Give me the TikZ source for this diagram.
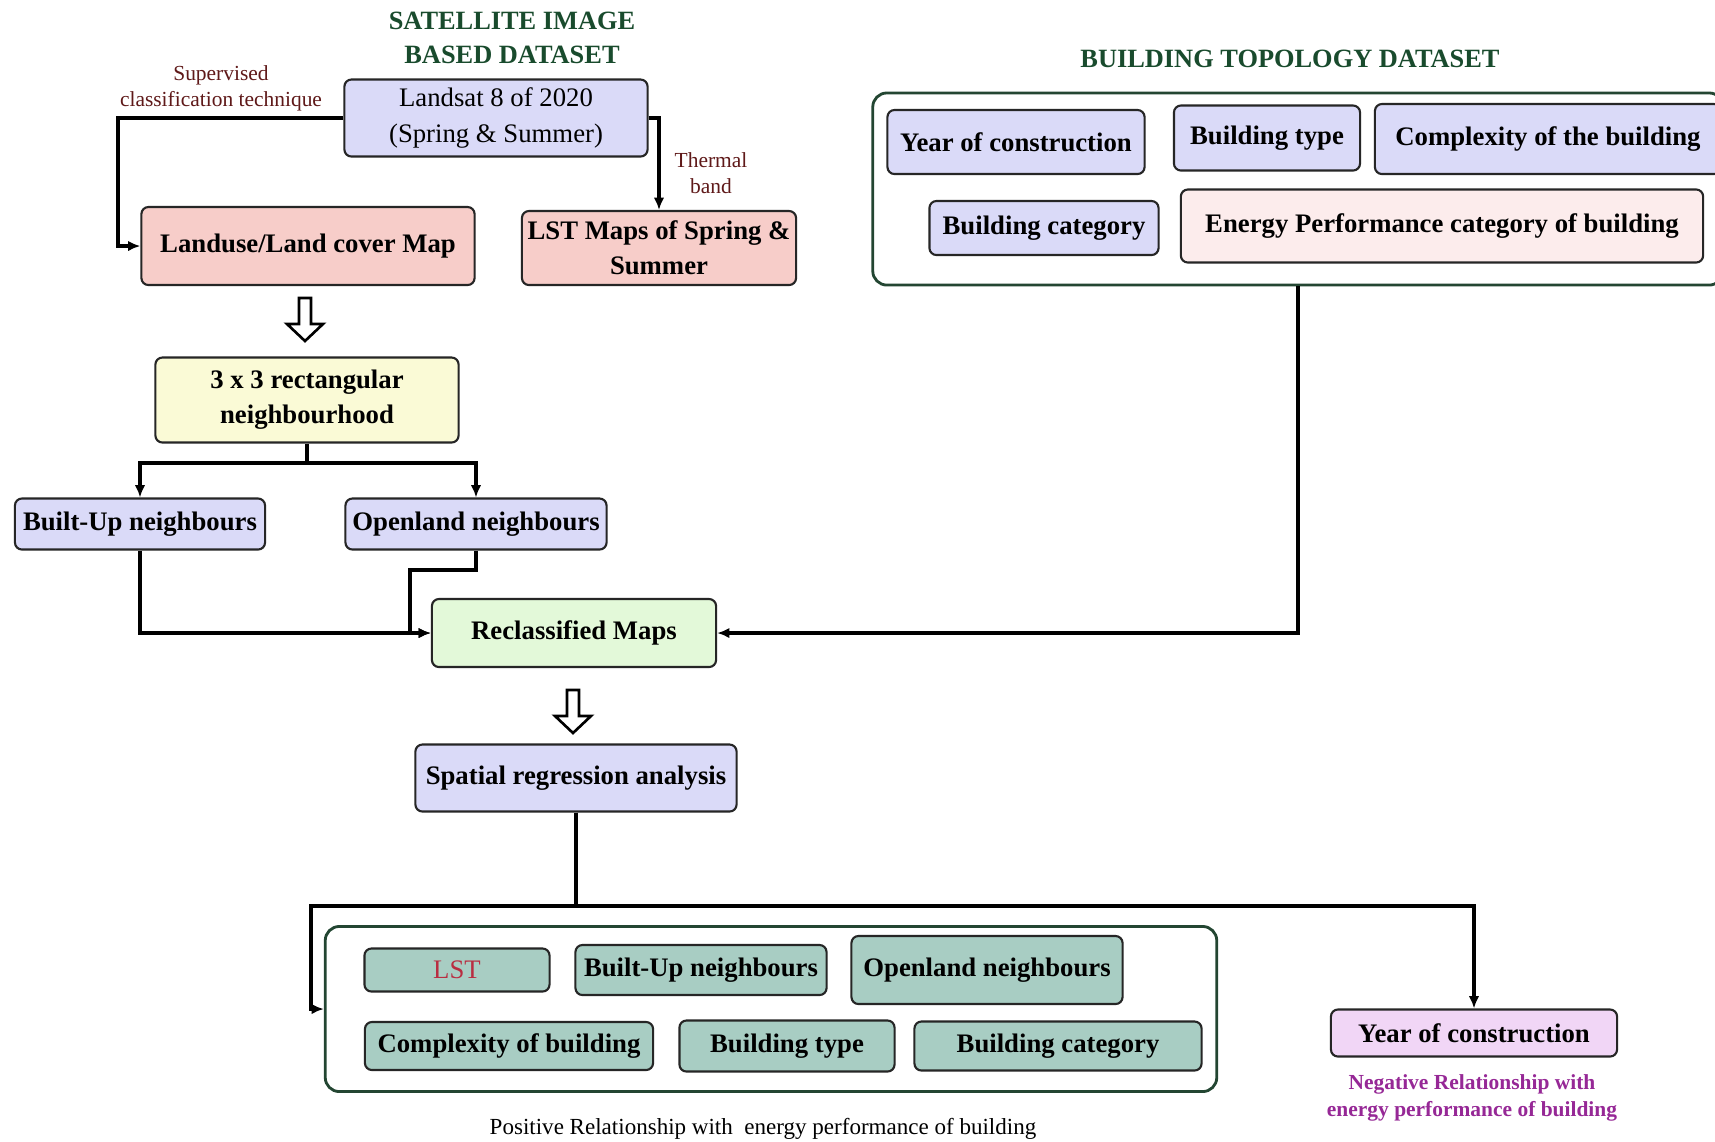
\documentclass[tikz,border=0pt]{standalone}
\usepackage{fontspec}
\setmainfont{Liberation Serif}
\usepackage{tikz}
\usetikzlibrary{arrows.meta, calc}

\definecolor{lav}{RGB}{218,218,248}
\definecolor{salmon}{RGB}{247,205,201}
\definecolor{blush}{RGB}{252,236,236}
\definecolor{cream}{RGB}{250,250,214}
\definecolor{mint}{RGB}{227,249,217}
\definecolor{teal}{RGB}{168,205,195}
\definecolor{orchid}{RGB}{241,214,246}
\definecolor{titlegreen}{RGB}{25,75,45}
\definecolor{framegreen}{RGB}{35,70,50}
\definecolor{maroon}{RGB}{95,25,25}
\definecolor{lstred}{RGB}{185,45,65}
\definecolor{negpurple}{RGB}{150,40,150}

\tikzset{
    box/.style={draw=black!85, line width=0.6pt, rounded corners=2pt, align=center, inner sep=1pt,
        font=\fontsize{7.6}{10}\selectfont\bfseries},
    frame/.style={draw=framegreen, line width=0.8pt, rounded corners=4pt},
    arr/.style={line width=0.95pt, -{Latex[length=3.5pt,width=3pt]}},
    ln/.style={line width=0.95pt},
    note/.style={align=center, font=\fontsize{6.1}{7.4}\selectfont},
    heading/.style={align=center, text=titlegreen, font=\fontsize{7.5}{9.6}\selectfont\bfseries},
    hollowdown/.pic={
        \draw[line width=0.75pt, fill=white] (-6,0) -- (6,0) -- (6,26) -- (18,26) -- (0,43)
            -- (-18,26) -- (-6,26) -- cycle;
    }
}

\begin{document}
\begin{tikzpicture}[x=0.01cm, y=-0.01cm]
        \useasboundingbox (0,0) rectangle (1715,1141);
        \fill[white] (0,0) rectangle (1715,1141);

        \node[heading] (satTitle) at (512,38) {SATELLITE IMAGE\\BASED DATASET};
        \node[heading] (topoTitle) at (1290,59) {BUILDING TOPOLOGY DATASET};

        \node[box, fill=lav, font=\fontsize{7.6}{10}\selectfont, minimum width=3.03cm, minimum height=0.77cm] (landsat) at (496,118) {Landsat 8 of 2020\\(Spring \& Summer)};
        \node[box, fill=salmon, minimum width=3.33cm, minimum height=0.78cm] (landuse) at (308,246) {Landuse/Land cover Map};
        \node[box, fill=salmon, minimum width=2.74cm, minimum height=0.74cm] (lstmap) at (659,248) {LST Maps of Spring \&\\Summer};

        \node[note, text=maroon] (supLabel) at (221,88) {Supervised\\classification technique};
        \node[note, text=maroon] (thermLabel) at (711,173) {Thermal\\band};

        \coordinate (lsbend) at (118,118);
        \draw[arr] (landsat.west) -- (lsbend) |- (landuse.west);
        \draw[arr] (landsat.east) -| (lstmap.north);

        \pic at (305,298) {hollowdown};

        \node[box, fill=cream, minimum width=3.03cm, minimum height=0.85cm] (nbhood) at (307,400) {3 x 3 rectangular\\neighbourhood};
        \node[box, fill=lav, minimum width=2.50cm, minimum height=0.51cm] (builtup) at (140,524) {Built-Up neighbours};
        \node[box, fill=lav, minimum width=2.61cm, minimum height=0.51cm] (openland) at (476,524) {Openland neighbours};

        \coordinate (fork) at (307,463);
        \draw[ln] (nbhood.south) -- (fork);
        \draw[arr] (fork) -| (builtup.north);
        \draw[arr] (fork) -| (openland.north);

        \node[box, fill=mint, minimum width=2.84cm, minimum height=0.68cm] (reclass) at (574,633) {Reclassified Maps};

        \coordinate (olbend) at (410,570);
        \draw[arr] (builtup.south) |- (reclass.west);
        \draw[arr] (openland.south) |- (olbend) |- (reclass.west);

        \node[frame, minimum width=8.50cm, minimum height=1.92cm] (topo) at (1298,189) {};
        \node[box, fill=lav, minimum width=2.57cm, minimum height=0.64cm] (year) at (1016,142) {Year of construction};
        \node[box, fill=lav, minimum width=1.86cm, minimum height=0.65cm] (btype) at (1267,138) {Building type};
        \node[box, fill=lav, minimum width=3.46cm, minimum height=0.70cm] (complex) at (1548,139) {Complexity of the building};
        \node[box, fill=lav, minimum width=2.29cm, minimum height=0.54cm] (bcat) at (1044,228) {Building category};
        \node[box, fill=blush, minimum width=5.22cm, minimum height=0.73cm] (energy) at (1442,226) {Energy Performance category of building};

        \draw[arr] (topo.south) |- (reclass.east);

        \pic at (573,690) {hollowdown};

        \node[box, fill=lav, minimum width=3.21cm, minimum height=0.67cm] (spatial) at (576,778) {Spatial regression analysis};

        \node[frame, minimum width=8.91cm, minimum height=1.65cm] (positive) at (771,1009) {};
        \node[box, fill=teal, text=lstred, font=\fontsize{7.6}{10}\selectfont, minimum width=1.85cm, minimum height=0.43cm] (lst) at (457,970) {LST};
        \node[box, fill=teal, minimum width=2.51cm, minimum height=0.50cm] (builtupB) at (701,970) {Built-Up neighbours};
        \node[box, fill=teal, minimum width=2.71cm, minimum height=0.68cm] (openlandB) at (987,970) {Openland neighbours};
        \node[box, fill=teal, minimum width=2.88cm, minimum height=0.48cm] (complexB) at (509,1046) {Complexity of building};
        \node[box, fill=teal, minimum width=2.15cm, minimum height=0.51cm] (btypeB) at (787,1046) {Building type};
        \node[box, fill=teal, minimum width=2.87cm, minimum height=0.49cm] (bcatB) at (1058,1046) {Building category};
        \node[note, font=\fontsize{6.55}{8}\selectfont] (posLabel) at (763,1129) {Positive Relationship with\ \ energy performance of building};

        \node[box, fill=orchid, minimum width=2.86cm, minimum height=0.47cm] (yearneg) at (1474,1033) {Year of construction};
        \node[note, text=negpurple, font=\fontsize{6.1}{7.8}\selectfont\bfseries] (negLabel) at (1472,1098) {Negative Relationship with\\energy performance of building};

        \coordinate (lsplit) at (311,906);
        \coordinate (rsplit) at (1474,906);
        \draw[arr] (spatial.south) |- (lsplit) |- (positive.west);
        \draw[arr] (spatial.south) |- (rsplit) -- (yearneg.north);
\end{tikzpicture}
\end{document}
